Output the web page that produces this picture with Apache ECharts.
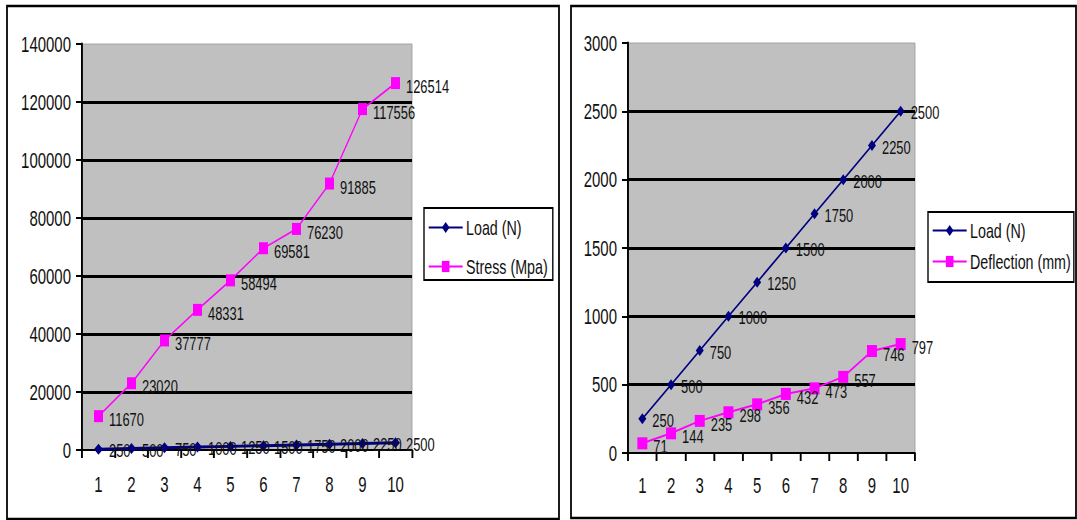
<!DOCTYPE html>
<html>
<head>
<meta charset="utf-8">
<title>Load, Stress and Deflection</title>
<script src="https://cdn.jsdelivr.net/npm/echarts@6/dist/echarts.min.js"></script>
<style>
  html, body { margin: 0; padding: 0; background: #fff; overflow: hidden; }
  /* The drawing is laid out wider and squeezed horizontally, which gives
     the tall, narrow lettering and markers of the original worksheet charts. */
  #chart { height: 520px; transform-origin: 0 0; }
</style>
</head>
<body>
<div id="chart"></div>
<script>
// Sample numbers 1..10
const categories = ['1', '2', '3', '4', '5', '6', '7', '8', '9', '10'];
// Applied load per sample (N)
const loadN = [250, 500, 750, 1000, 1250, 1500, 1750, 2000, 2250, 2500];
// Resulting stress (Mpa)
const stressMpa = [11670, 23020, 37777, 48331, 58494, 69581, 76230, 91885, 117556, 126514];
// Resulting deflection (mm)
const deflectionMm = [71, 144, 235, 298, 356, 432, 473, 557, 746, 797];

// Horizontal squeeze applied to the container; px() turns a screen x into layout units.
const SX = 0.68;
const px = (v) => v / SX;

const el = document.getElementById('chart');
el.style.width = Math.ceil(px(1077)) + 'px';
el.style.transform = 'scaleX(' + SX + ')';

const FONT = "'Liberation Sans', Arial, sans-serif";
const NAVY = '#000080';
const MAGENTA = '#ff00ff';

function xAxisFor(gridIndex, margin) {
  return {
    type: 'category',
    gridIndex: gridIndex,
    data: categories,
    boundaryGap: true,
    axisLine: { lineStyle: { color: '#000', width: 2 } },
    axisTick: { show: true, length: 8, lineStyle: { color: '#000', width: 2.8 } },
    axisLabel: { color: '#111', fontFamily: FONT, fontSize: 22, margin: margin },
    splitLine: { show: false }
  };
}

function yAxisFor(gridIndex, max, interval) {
  return {
    type: 'value',
    gridIndex: gridIndex,
    min: 0,
    max: max,
    interval: interval,
    axisLine: { show: true, lineStyle: { color: '#000', width: 2.8 } },
    axisTick: { show: true, length: px(6), lineStyle: { color: '#000', width: 2 } },
    axisLabel: {
      color: '#111', fontFamily: FONT, fontSize: 22, margin: px(11),
      formatter: (v) => String(v)
    },
    splitLine: {
      show: true,
      showMinLine: false,
      showMaxLine: false,
      lineStyle: { color: '#000', width: 3 }
    }
  };
}

function dataLabel(offsetY) {
  return {
    show: true,
    position: 'right',
    distance: px(6),
    offset: [0, offsetY],
    color: '#111',
    fontFamily: FONT,
    fontSize: 19
  };
}

function legendFor(left, top, names, gap, padding) {
  return {
    orient: 'vertical',
    left: px(left),
    top: top,
    data: names,
    backgroundColor: '#fff',
    borderColor: '#000',
    borderWidth: 2,
    borderRadius: 0,
    padding: padding,
    itemWidth: px(34),
    itemHeight: 14,
    itemGap: gap,
    selectedMode: false,
    textStyle: { color: '#111', fontFamily: FONT, fontSize: 21 }
  };
}

const option = {
  backgroundColor: '#fff',
  animation: false,
  graphic: [
    { type: 'rect', shape: { x: px(7), y: 6, width: px(552), height: 513 },
      style: { fill: 'none', stroke: '#000', lineWidth: 2.6 }, silent: true, z: 100 },
    { type: 'rect', shape: { x: px(571), y: 6, width: px(505), height: 512 },
      style: { fill: 'none', stroke: '#000', lineWidth: 2.6 }, silent: true, z: 100 }
  ],
  grid: [
    { left: px(82), top: 44, width: px(330), height: 406, show: true,
      backgroundColor: '#c0c0c0', borderColor: '#9a9a9a', borderWidth: 1 },
    { left: px(628), top: 43, width: px(287), height: 410, show: true,
      backgroundColor: '#c0c0c0', borderColor: '#9a9a9a', borderWidth: 1 }
  ],
  legend: [
    legendFor(424, 208, ['Load (N)', 'Stress (Mpa)'], 18, [9, px(5), 3, px(4)]),
    legendFor(928, 212, ['Load (N)', 'Deflection (mm)'], 10, [8, px(3), 10, px(4)])
  ],
  xAxis: [xAxisFor(0, 23), xAxisFor(1, 21)],
  yAxis: [yAxisFor(0, 140000, 20000), yAxisFor(1, 3000, 500)],
  series: [
    {
      name: 'Load (N)', type: 'line', xAxisIndex: 0, yAxisIndex: 0,
      data: loadN,
      symbol: 'diamond', symbolSize: [px(9), 11],
      lineStyle: { color: NAVY, width: 3 },
      itemStyle: { color: NAVY },
      label: dataLabel(1),
      z: 3
    },
    {
      name: 'Stress (Mpa)', type: 'line', xAxisIndex: 0, yAxisIndex: 0,
      data: stressMpa,
      symbol: 'rect', symbolSize: [px(9), 12],
      lineStyle: { color: MAGENTA, width: 1.8 },
      itemStyle: { color: MAGENTA },
      label: dataLabel(3),
      z: 4
    },
    {
      name: 'Load (N)', type: 'line', xAxisIndex: 1, yAxisIndex: 1,
      data: loadN,
      symbol: 'diamond', symbolSize: [px(8), 11],
      lineStyle: { color: NAVY, width: 2 },
      itemStyle: { color: NAVY },
      label: dataLabel(1),
      z: 3
    },
    {
      name: 'Deflection (mm)', type: 'line', xAxisIndex: 1, yAxisIndex: 1,
      data: deflectionMm,
      symbol: 'rect', symbolSize: [px(10), 12],
      lineStyle: { color: MAGENTA, width: 2 },
      itemStyle: { color: MAGENTA },
      label: dataLabel(3),
      z: 4
    }
  ]
};

const chart = echarts.init(el, null, { renderer: 'svg' });
chart.setOption(option);
</script>
</body>
</html>
